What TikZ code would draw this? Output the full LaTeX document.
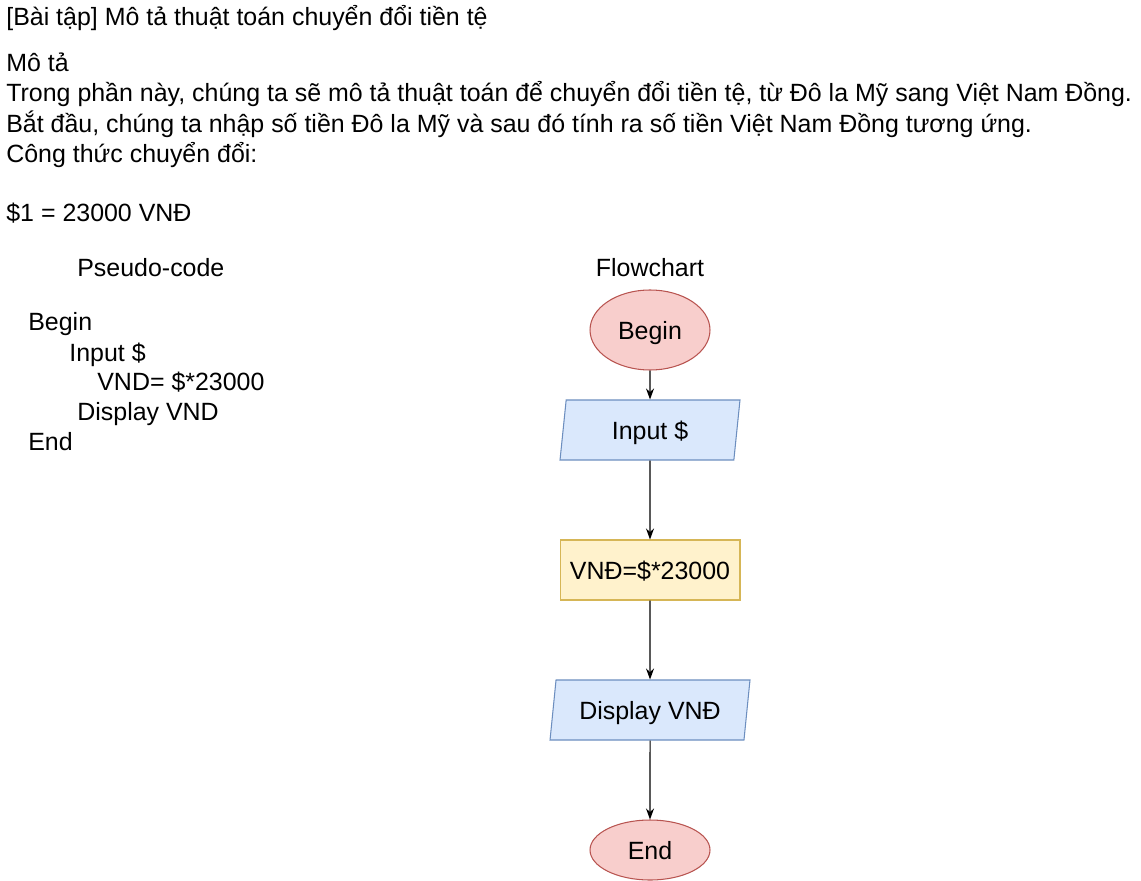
\documentclass[tikz,border=0pt]{standalone}
\usepackage{fontspec}
\setmainfont{Liberation Sans}
\usepackage{tikz}
\usetikzlibrary{positioning,arrows.meta,shapes.geometric}
\definecolor{termfill}{HTML}{F8CECC}
\definecolor{termline}{HTML}{B85450}
\definecolor{iofill}{HTML}{DAE8FC}
\definecolor{ioline}{HTML}{6C8EBF}
\definecolor{procfill}{HTML}{FFF2CC}
\definecolor{procline}{HTML}{D6B656}
\tikzset{
  txt/.style={anchor=base west, inner sep=0pt},
  terminal/.style={ellipse, fill=termfill, draw=termline, line width=0.6pt,
    minimum width=2.4cm, inner sep=0pt, text depth=0pt},
  iobox/.style={trapezium, trapezium left angle=71.6, trapezium right angle=108.4,
    trapezium stretches body, fill=iofill, draw=ioline, line width=0.6pt,
    minimum height=1.2cm, inner sep=0pt, text depth=0pt},
  procbox/.style={rectangle, fill=procfill, draw=procline, line width=0.6pt,
    minimum width=3.6cm, minimum height=1.2cm, inner sep=0pt, text depth=0pt},
  flow/.style={-{Stealth[length=2.2mm,width=1.6mm]}, line width=0.6pt}
}
\newcommand{\txtline}[3]{\node[txt] (#1) at #2 {#3};}

\begin{document}
\begin{tikzpicture}[x=0.02cm, y=-0.02cm, font=\fontsize{14.2}{17}\selectfont]
  \useasboundingbox (0,0) rectangle (1141,881);
  % description
  \txtline{title}{(6,26)}{[Bài tập] Mô tả thuật toán chuyển đổi tiền tệ}
  \txtline{desc}{(6,72)}{Mô tả}
  \txtline{descA}{(6,102)}{Trong phần này, chúng ta sẽ mô tả thuật toán để chuyển đổi tiền tệ, từ Đô la Mỹ sang Việt Nam Đồng.}
  \txtline{descB}{(6,133)}{Bắt đầu, chúng ta nhập số tiền Đô la Mỹ và sau đó tính ra số tiền Việt Nam Đồng tương ứng.}
  \txtline{descC}{(6,163)}{Công thức chuyển đổi:}
  \txtline{rate}{(6,222)}{\$1 = 23000 VNĐ}
  % pseudo-code
  \txtline{pchead}{(77,277)}{Pseudo-code}
  \txtline{pc1}{(28,331)}{Begin}
  \txtline{pc2}{(69,361)}{Input \$}
  \txtline{pc3}{(97,390)}{VND= \$*23000}
  \txtline{pc4}{(77,420)}{Display VND}
  \txtline{pc5}{(28,450)}{End}
  % flowchart
  \node[anchor=base, inner sep=0pt] (fchead) at (650,277) {Flowchart};
  \node[terminal, minimum height=1.6cm] (begin) at (650,330) {Begin};
  \node[iobox, minimum width=3.6cm] (input) at (650,430) {Input \$};
  \node[procbox] (calc) at (650,570) {VNĐ=\$*23000};
  \node[iobox, minimum width=4cm] (show) at (650,710) {Display VNĐ};
  \node[terminal, minimum height=1.2cm] (end) at (650,850) {End};
  \draw[flow] (begin) -- (input);
  \draw[flow] (input) -- (calc);
  \draw[flow] (calc) -- (show);
  \draw[flow] (show) -- (end);
\end{tikzpicture}
\end{document}
